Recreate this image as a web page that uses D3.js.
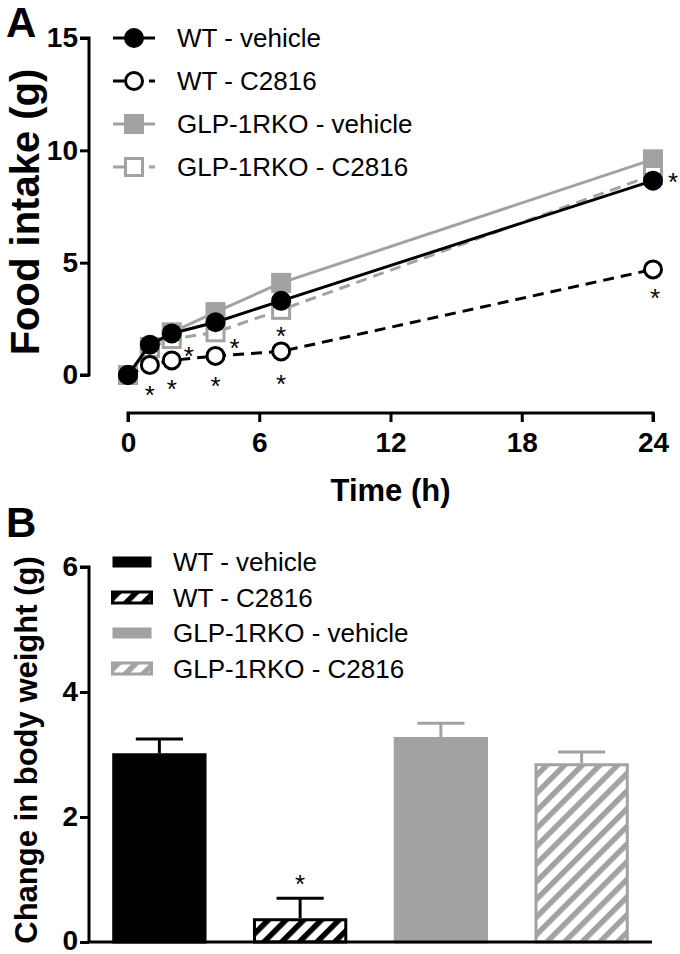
<!DOCTYPE html>
<html>
<head>
<meta charset="utf-8">
<script src="https://cdn.jsdelivr.net/npm/d3@7"></script>
<style>
  body { margin: 0; background: #fff; }
  svg { display: block; font-family: "Liberation Sans", Arial, sans-serif; }
  .tick text { font-family: "Liberation Sans Narrow", "Liberation Sans", Arial, sans-serif; font-weight: bold; font-size: 28px; fill: #000; }
</style>
</head>
<body>
<svg id="chart" width="680" height="954"></svg>
<script>
// ---------- Panel A data ----------
const timesA = [0, 1, 2, 4, 7, 24];
const seriesNamesA = ["WT - vehicle", "WT - C2816", "GLP-1RKO - vehicle", "GLP-1RKO - C2816"];
const wtVehicle   = [0, 1.35, 1.85, 2.35, 3.3, 8.65];
const wtC2816     = [0, 0.45, 0.65, 0.85, 1.05, 4.7];
const glpVehicle  = [0, 1.25, 1.9, 2.8, 4.1, 9.6];
const glpC2816    = [0, 1.2, 1.6, 1.9, 2.9, 8.9];
const xTicksA = [0, 6, 12, 18, 24];
const yTicksA = [0, 5, 10, 15];
// significance stars: [series, time index]
const starsA = [
  ["wtC", 1], ["wtC", 2], ["wtC", 3], ["wtC", 4], ["wtC", 5],
  ["glpC", 2], ["glpC", 3], ["glpC", 4], ["glpC", 5]
];

// ---------- Panel B data ----------
const groupsB = ["WT - vehicle", "WT - C2816", "GLP-1RKO - vehicle", "GLP-1RKO - C2816"];
const meansB = [3.02, 0.38, 3.28, 2.86];
const semB   = [0.23, 0.32, 0.22, 0.18];
const starsB = [false, true, false, false];
const yTicksB = [0, 2, 4, 6];

const BLACK = "#000";
const GRAY = "#a2a2a5";

const svg = d3.select("#chart");

// ================= Panel A =================
const xA = d3.scaleLinear().domain([0, 24]).range([128, 653]);
const yA = d3.scaleLinear().domain([0, 15]).range([375, 38]);

svg.append("text").attr("x", 6).attr("y", 37).attr("font-size", 42).attr("font-weight", "bold").text("A");

const yAxisA = svg.append("g").attr("transform", "translate(89,0)")
  .call(d3.axisLeft(yA).tickValues(yTicksA).tickSize(9).tickPadding(2).tickFormat(d3.format("d")));
const xAxisA = svg.append("g").attr("transform", "translate(0,413)")
  .call(d3.axisBottom(xA).tickValues(xTicksA).tickSize(9).tickPadding(10).tickFormat(d3.format("d")));
[yAxisA, xAxisA].forEach(g => {
  g.select(".domain").attr("stroke", BLACK).attr("stroke-width", 3);
  g.selectAll(".tick line").attr("stroke", BLACK).attr("stroke-width", 3);
});
yAxisA.select(".domain").attr("d", `M-9,${yA(15)}H0V${yA(0)}H-9`);
xAxisA.select(".domain").attr("d", `M${xA(0)},9V0H${xA(24)}V9`);

svg.append("text").attr("x", xA(12)).attr("y", 501).attr("text-anchor", "middle")
  .attr("font-size", 31).attr("font-weight", "bold").text("Time (h)");
svg.append("text").attr("transform", `translate(39,212) rotate(-90)`)
  .attr("text-anchor", "middle").attr("font-size", 40).attr("font-weight", "bold").text("Food intake (g)");

const seriesA = [
  { key: "glpV", name: seriesNamesA[2], vals: glpVehicle, color: GRAY, dash: null, marker: "square", filled: true },
  { key: "glpC", name: seriesNamesA[3], vals: glpC2816, color: GRAY, dash: "11,7", marker: "square", filled: false },
  { key: "wtC", name: seriesNamesA[1], vals: wtC2816, color: BLACK, dash: "11,7", marker: "circle", filled: false },
  { key: "wtV", name: seriesNamesA[0], vals: wtVehicle, color: BLACK, dash: null, marker: "circle", filled: true }
];

const line = d3.line().x(d => xA(d[0])).y(d => yA(d[1]));

function drawMarker(g, type, filled, color, cx, cy) {
  if (type === "circle") {
    g.append("circle").attr("cx", cx).attr("cy", cy).attr("r", filled ? 10 : 8.5)
      .attr("fill", filled ? color : "#fff").attr("stroke", color).attr("stroke-width", filled ? 0 : 3);
  } else {
    const s = filled ? 20 : 17;
    g.append("rect").attr("x", cx - s / 2).attr("y", cy - s / 2).attr("width", s).attr("height", s)
      .attr("fill", filled ? color : "#fff").attr("stroke", color).attr("stroke-width", filled ? 0 : 3);
  }
}

seriesA.forEach(s => {
  const pts = timesA.map((t, i) => [t, s.vals[i]]);
  const g = svg.append("g");
  g.append("path").attr("d", line(pts)).attr("fill", "none").attr("stroke", s.color)
    .attr("stroke-width", 3).attr("stroke-dasharray", s.dash);
  pts.forEach(p => drawMarker(g, s.marker, s.filled, s.color, xA(p[0]), yA(p[1])));
});

// stars
const starOffsets = {
  "wtC-1": [0, 24], "wtC-2": [0, 23], "wtC-3": [0, 24], "wtC-4": [0, 27], "wtC-5": [2, 23],
  "glpC-2": [17, 11], "glpC-3": [19, 10], "glpC-4": [0, 20], "glpC-5": [20, 1]
};
const seriesByKey = Object.fromEntries(seriesA.map(s => [s.key, s]));
starsA.forEach(([k, i]) => {
  const s = seriesByKey[k];
  const off = starOffsets[k + "-" + i];
  svg.append("text").attr("x", xA(timesA[i]) + off[0]).attr("y", yA(s.vals[i]) + off[1] + 15)
    .attr("text-anchor", "middle").attr("font-size", 26).text("*");
});

// legend A
const legendA = [seriesA[3], seriesA[2], seriesA[0], seriesA[1]];
legendA.forEach((s, i) => {
  const y = 38 + i * 43;
  const g = svg.append("g");
  g.append("line").attr("x1", 113).attr("x2", 155).attr("y1", y).attr("y2", y)
    .attr("stroke", s.color).attr("stroke-width", 3).attr("stroke-dasharray", s.dash);
  drawMarker(g, s.marker, s.filled, s.color, 134, y);
  g.append("text").attr("x", 177).attr("y", y + 9).attr("font-size", 26).text(s.name);
});

// ================= Panel B =================
const xB = d3.scaleBand().domain(groupsB).range([89, 652]).paddingInner(0.33).paddingOuter(0.165);
const yB = d3.scaleLinear().domain([0, 6]).range([942, 567]);

svg.append("text").attr("x", 6).attr("y", 537).attr("font-size", 42).attr("font-weight", "bold").text("B");

const defs = svg.append("defs");
function hatch(id, color) {
  const p = defs.append("pattern").attr("id", id).attr("patternUnits", "userSpaceOnUse")
    .attr("width", 12.5).attr("height", 12.5).attr("patternTransform", "rotate(45)");
  p.append("rect").attr("width", 12.5).attr("height", 12.5).attr("fill", "#fff");
  p.append("rect").attr("x", 0).attr("width", 5.5).attr("height", 12.5).attr("fill", color);
}
hatch("hatchBlack", BLACK);
hatch("hatchGray", GRAY);

const styleB = [
  { fill: BLACK, stroke: BLACK, color: BLACK },
  { fill: "url(#hatchBlack)", stroke: BLACK, color: BLACK },
  { fill: GRAY, stroke: GRAY, color: GRAY },
  { fill: "url(#hatchGray)", stroke: GRAY, color: GRAY }
];

const bw = xB.bandwidth();
groupsB.forEach((grp, i) => {
  const st = styleB[i];
  const x0 = xB(grp), cx = x0 + bw / 2;
  // error bar
  svg.append("line").attr("x1", cx).attr("x2", cx).attr("y1", yB(meansB[i])).attr("y2", yB(meansB[i] + semB[i]))
    .attr("stroke", st.color).attr("stroke-width", 3);
  svg.append("line").attr("x1", cx - bw / 4).attr("x2", cx + bw / 4)
    .attr("y1", yB(meansB[i] + semB[i])).attr("y2", yB(meansB[i] + semB[i]))
    .attr("stroke", st.color).attr("stroke-width", 3);
  // bar (stroke inset)
  svg.append("rect").attr("x", x0 + 1.5).attr("y", yB(meansB[i]) + 1.5)
    .attr("width", bw - 3).attr("height", yB(0) - yB(meansB[i]) - 1.5)
    .attr("fill", st.fill).attr("stroke", st.stroke).attr("stroke-width", 3);
  if (starsB[i]) {
    svg.append("text").attr("x", cx).attr("y", yB(meansB[i] + semB[i]) - 20 + 15)
      .attr("text-anchor", "middle").attr("font-size", 26).text("*");
  }
});

const yAxisB = svg.append("g").attr("transform", "translate(89,0)")
  .call(d3.axisLeft(yB).tickValues(yTicksB).tickSize(9).tickPadding(2).tickFormat(d3.format("d")));
yAxisB.select(".domain").attr("d", `M-9,${yB(6)}H0V${yB(0)}`).attr("stroke", BLACK).attr("stroke-width", 3);
yAxisB.selectAll(".tick line").attr("stroke", BLACK).attr("stroke-width", 3);
yAxisB.selectAll(".tick text").attr("dy", (d) => d === 0 ? "0.25em" : "0.32em");
svg.append("line").attr("x1", 87.5).attr("x2", 652).attr("y1", yB(0)).attr("y2", yB(0))
  .attr("stroke", BLACK).attr("stroke-width", 3);

svg.append("text").attr("transform", `translate(37,750) rotate(-90)`)
  .attr("text-anchor", "middle").attr("font-size", 31).attr("font-weight", "bold").text("Change in body weight (g)");

// legend B
groupsB.forEach((grp, i) => {
  const y = 562 + i * 35.5;
  const st = styleB[i];
  svg.append("rect").attr("x", 112.5).attr("y", y - 5.5).attr("width", 39).attr("height", 11)
    .attr("fill", st.fill).attr("stroke", st.stroke).attr("stroke-width", i % 2 ? 3 : 0);
  svg.append("text").attr("x", 173).attr("y", y + 9).attr("font-size", 26).text(grp);
});
</script>
</body>
</html>
